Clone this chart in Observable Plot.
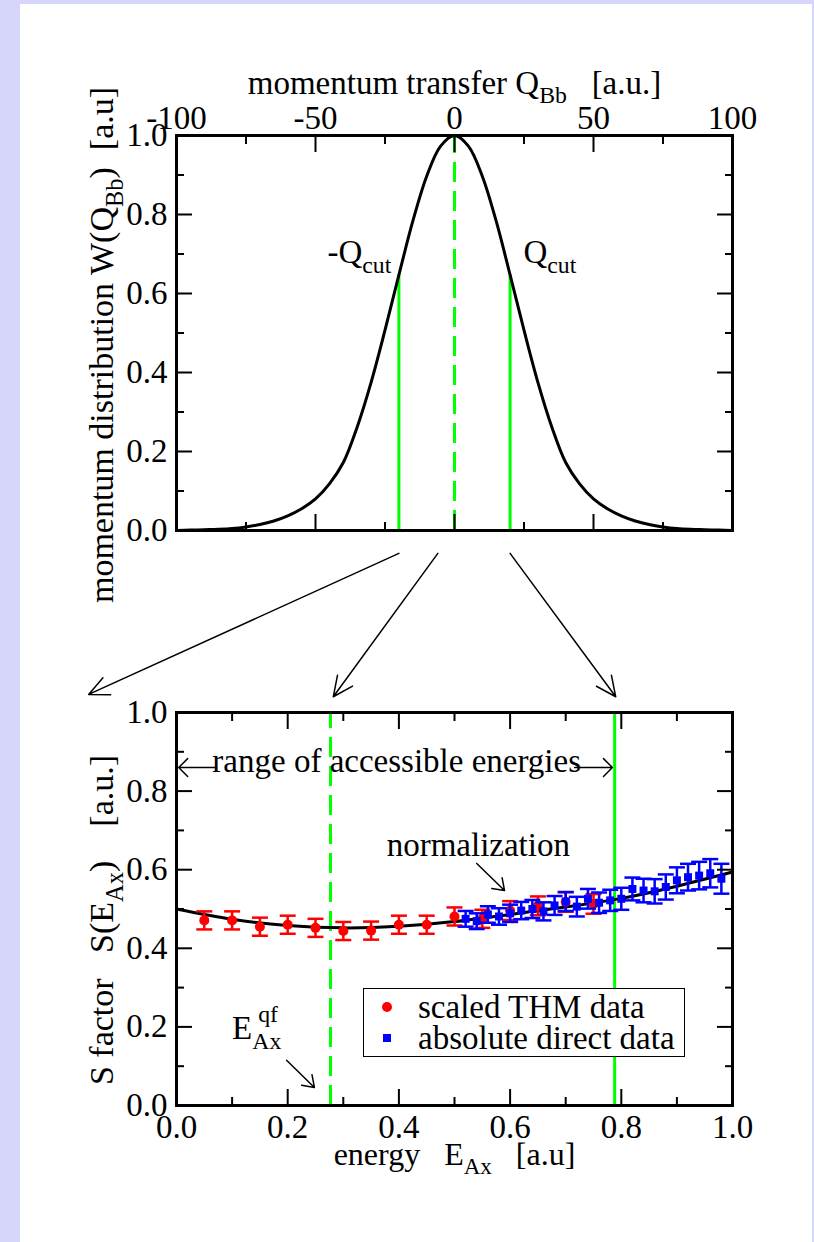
<!DOCTYPE html>
<html><head><meta charset="utf-8">
<script src="https://cdn.jsdelivr.net/npm/d3@7"></script>
<script src="https://cdn.jsdelivr.net/npm/@observablehq/plot@0.6"></script>
<style>
html,body{margin:0;padding:0;background:#d6d6fb;}
#page{position:relative;width:814px;height:1242px;overflow:hidden;font-family:'Liberation Serif','Times New Roman',serif;}
#sheet{position:absolute;left:20px;top:4px;width:792px;height:1240px;background:#fff;}
#top,#bottom{position:absolute;left:0;width:814px;}
#top{top:0;}
#bottom{top:540px;}
#legend{position:absolute;left:363px;top:988px;width:322px;height:69px;box-sizing:border-box;border:1.5px solid #000;background:#fff;}
svg text, svg tspan{white-space:pre;}
</style></head><body>
<div id="page"><div id="sheet"></div><div id="top"></div><div id="bottom"></div><div id="legend"></div></div>
<script>
// ---- top panel: momentum distribution ----
const momentumQ = [-100,-95,-90,-85,-80,-75,-70,-65,-60,-55,-50,-45,-40,-35,-30,-25,-20,-15,-10,-5,0,5,10,15,20,25,30,35,40,45,50,55,60,65,70,75,80,85,90,95,100];
const momentumW = [0,0.001,0.002,0.003,0.005,0.009,0.015,0.024,0.037,0.055,0.08,0.118,0.172,0.262,0.375,0.507,0.647,0.783,0.897,0.973,1.0,0.973,0.897,0.783,0.647,0.507,0.375,0.262,0.172,0.118,0.08,0.055,0.037,0.024,0.015,0.009,0.005,0.003,0.002,0.001,0];
const cutQ = [-20, 20];
const cutW = [0.647, 0.647];
const centerQ = [0];
const qMajor = [-100,-50,0,50,100];
const qMinor = [-75,-25,25,75];
const wMajor = [0,0.2,0.4,0.6,0.8,1.0];
const wMinor = [0.1,0.3,0.5,0.7,0.9];

// ---- bottom panel: S factor ----
const thmE = [0.05,0.10,0.15,0.20,0.25,0.30,0.35,0.40,0.45,0.50,0.55,0.60,0.65,0.70,0.75];
const thmS = [0.471,0.471,0.455,0.460,0.452,0.444,0.445,0.460,0.460,0.481,0.475,0.496,0.508,0.518,0.513];
const thmErr = [0.023,0.023,0.023,0.023,0.023,0.023,0.023,0.023,0.023,0.023,0.023,0.024,0.024,0.025,0.025];
const directE = [0.52,0.54,0.56,0.58,0.60,0.62,0.64,0.66,0.68,0.70,0.72,0.74,0.76,0.78,0.80,0.82,0.84,0.86,0.88,0.90,0.92,0.94,0.96,0.98];
const directS = [0.475,0.469,0.486,0.481,0.489,0.496,0.500,0.494,0.509,0.519,0.506,0.526,0.516,0.522,0.526,0.551,0.547,0.545,0.556,0.573,0.581,0.585,0.591,0.577];
const directErr = [0.020,0.020,0.021,0.021,0.022,0.022,0.023,0.023,0.024,0.024,0.025,0.025,0.026,0.027,0.028,0.029,0.030,0.031,0.032,0.033,0.034,0.035,0.036,0.038];
const fitE = [0,0.1,0.2,0.3,0.4,0.5,0.6,0.7,0.8,0.9,1.0];
const fitS = [0.500,0.474,0.458,0.452,0.456,0.468,0.486,0.505,0.527,0.558,0.594];
const qfE = [0.277];
const limitE = [0.788];
const eMajor = [0,0.2,0.4,0.6,0.8,1.0];
const eMinor = [0.1,0.3,0.5,0.7,0.9];
const sMajor = [0,0.2,0.4,0.6,0.8,1.0];
const sMinor = [0.1,0.3,0.5,0.7,0.9];
// arrows from the upper panel down to the lower panel (in lower-panel units)
const linkE1 = [0.40, 0.47, 0.60];
const linkS1 = [1.405, 1.405, 1.405];
const linkE2 = [-0.158, 0.282, 0.790];
const linkS2 = [1.046, 1.040, 1.040];
const legendLabels = ["scaled THM data", "absolute direct data"];
const legendColors = ["#ff0000", "#0000ff"];

const FONT = "'Liberation Serif', 'Times New Roman', serif";
const FS = 33;
const GREEN = "#00ff00";
const fmt = d => d.toFixed(1);

const styleBase = {fontFamily: FONT, fontSize: FS + "px", background: "transparent", overflow: "visible", color: "#000"};
const capSymbol = {draw(ctx, size) { const w = Math.sqrt(size / Math.PI); ctx.moveTo(-w, 0); ctx.lineTo(w, 0); }};

function ticksFor(xMaj, xMin, yMaj, yMin) {
  const m = [];
  for (const anchor of ["top", "bottom"]) {
    m.push(Plot.axisX(xMaj, {anchor, tickSize: -16, tickFormat: () => "", label: null, strokeWidth: 2}));
    m.push(Plot.axisX(xMin, {anchor, tickSize: -8, tickFormat: () => "", label: null, strokeWidth: 2}));
  }
  for (const anchor of ["left", "right"]) {
    m.push(Plot.axisY(yMaj, {anchor, tickSize: -16, tickFormat: () => "", label: null, strokeWidth: 2}));
    m.push(Plot.axisY(yMin, {anchor, tickSize: -8, tickFormat: () => "", label: null, strokeWidth: 2}));
  }
  return m;
}

function richify(svg) {
  d3.select(svg).selectAll("text").each(function() {
    const t = this.textContent;
    if (!/[_^]\{/.test(t)) return;
    const fs = parseFloat(getComputedStyle(this).fontSize) || FS;
    const sel = d3.select(this).attr("xml:space", "preserve").style("white-space", "pre");
    this.textContent = "";
    const re = /([_^])\{([^}]*)\}/g;
    let last = 0, m; const parts = [];
    while ((m = re.exec(t))) {
      if (m.index > last) parts.push({s: t.slice(last, m.index), k: ""});
      parts.push({s: m[2], k: m[1]});
      last = re.lastIndex;
    }
    if (last < t.length) parts.push({s: t.slice(last), k: ""});
    let shift = 0;
    for (const p of parts) {
      const target = p.k === "_" ? 0.3 * fs : p.k === "^" ? -0.42 * fs : 0;
      const ts = sel.append("tspan").text(p.s).style("white-space", "pre");
      if (target - shift) ts.attr("dy", target - shift);
      if (p.k) ts.attr("font-size", 0.72 * fs);
      shift = target;
    }
  });
}

// ---------------- TOP PLOT ----------------
const topData = momentumQ.map((q, i) => ({q, w: momentumW[i]}));
const cutData = cutQ.map((q, i) => ({q, w: cutW[i]}));
const topPlot = Plot.plot({
  width: 814, height: 540,
  marginLeft: 176, marginRight: 82, marginTop: 135, marginBottom: 10,
  x: {domain: [-100, 100]},
  y: {domain: [0, 1]},
  style: styleBase,
  marks: [
    Plot.ruleX(cutData, {x: "q", y1: 0, y2: "w", stroke: GREEN, strokeWidth: 3}),
    Plot.ruleX(centerQ, {y1: 0, y2: 1, stroke: GREEN, strokeWidth: 3, strokeDasharray: "20,9"}),
    Plot.line(topData, {x: "q", y: "w", stroke: "#000", strokeWidth: 3, curve: "catmull-rom"}),
    ...ticksFor(qMajor, qMinor, wMajor, wMinor),
    Plot.axisX(qMajor, {anchor: "top", tickSize: 0, tickPadding: 7, tickFormat: d => String(d), label: null}),
    Plot.axisY(wMajor, {anchor: "left", tickSize: 0, tickPadding: 9, tickFormat: fmt, label: null}),
    Plot.frame({stroke: "#000", strokeWidth: 3}),
    Plot.text(["-Q_{cut}"], {x: -45.7, y: 0.678, textAnchor: "start", lineAnchor: "bottom", fontSize: FS}),
    Plot.text(["Q_{cut}"], {x: 24.8, y: 0.678, textAnchor: "start", lineAnchor: "bottom", fontSize: FS}),
    Plot.text(["momentum transfer Q_{Bb}   [a.u.]"], {frameAnchor: "top", textAnchor: "middle", lineAnchor: "bottom", dy: -42, fontSize: 33}),
    Plot.text(["momentum distribution W(Q_{Bb})  [a.u]"], {frameAnchor: "left", rotate: -90, textAnchor: "middle", lineAnchor: "bottom", dx: -64, dy: 12, fontSize: 34})
  ]
});
document.getElementById("top").appendChild(topPlot);
richify(topPlot);

// ---------------- BOTTOM PLOT ----------------
const thm = thmE.map((e, i) => ({e, s: thmS[i], err: thmErr[i]}));
const direct = directE.map((e, i) => ({e, s: directS[i], err: directErr[i]}));
const fit = fitE.map((e, i) => ({e, s: fitS[i]}));
const links = linkE1.map((e, i) => ({x1: e, y1: linkS1[i], x2: linkE2[i], y2: linkS2[i]}));
function errMarks(data, color) {
  return [
    Plot.ruleX(data, {x: "e", y1: d => d.s - d.err, y2: d => d.s + d.err, stroke: color, strokeWidth: 2.5}),
    Plot.dot(data, {x: "e", y: d => d.s - d.err, symbol: capSymbol, r: 8, stroke: color, strokeWidth: 2.5, fill: "none"}),
    Plot.dot(data, {x: "e", y: d => d.s + d.err, symbol: capSymbol, r: 8, stroke: color, strokeWidth: 2.5, fill: "none"})
  ];
}
const bottomPlot = Plot.plot({
  width: 814, height: 702,
  marginLeft: 176, marginRight: 82, marginTop: 172, marginBottom: 137,
  x: {domain: [0, 1]},
  y: {domain: [0, 1]},
  style: styleBase,
  marks: [
    Plot.ruleX(qfE, {y1: 0, y2: 1, stroke: GREEN, strokeWidth: 3, strokeDasharray: "20,9"}),
    Plot.ruleX(limitE, {y1: 0, y2: 1, stroke: GREEN, strokeWidth: 3}),
    Plot.line(fit, {x: "e", y: "s", stroke: "#000", strokeWidth: 3, curve: "natural"}),
    ...errMarks(thm, "#ff0000"),
    Plot.dot(thm, {x: "e", y: "s", r: 5, fill: "#ff0000"}),
    ...errMarks(direct, "#0000ff"),
    Plot.dot(direct, {x: "e", y: "s", r: 4.5, symbol: "square", fill: "#0000ff"}),
    ...ticksFor(eMajor, eMinor, sMajor, sMinor),
    Plot.axisX(eMajor, {anchor: "bottom", tickSize: 0, tickPadding: 9, tickFormat: fmt, label: null}),
    Plot.axisY(sMajor, {anchor: "left", tickSize: 0, tickPadding: 9, tickFormat: fmt, label: null}),
    Plot.frame({stroke: "#000", strokeWidth: 3}),
    Plot.arrow(links, {x1: "x1", y1: "y1", x2: "x2", y2: "y2", stroke: "#000", strokeWidth: 1.5, headLength: 22, headAngle: 50}),
    Plot.arrow([{x1: 0.072, x2: 0.004, y: 0.86}, {x1: 0.716, x2: 0.784, y: 0.86}], {x1: "x1", x2: "x2", y1: "y", y2: "y", stroke: "#000", strokeWidth: 1.5, headLength: 13, headAngle: 90}),
    Plot.arrow([{x1: 0.540, y1: 0.616, x2: 0.590, y2: 0.547}, {x1: 0.198, y1: 0.115, x2: 0.248, y2: 0.046}], {x1: "x1", y1: "y1", x2: "x2", y2: "y2", stroke: "#000", strokeWidth: 1.5, headLength: 14, headAngle: 70}),
    Plot.text(["range of accessible energies"], {x: 0.396, y: 0.848, textAnchor: "middle", lineAnchor: "bottom", fontSize: FS}),
    Plot.text(["normalization"], {x: 0.378, y: 0.636, textAnchor: "start", lineAnchor: "bottom", fontSize: FS}),
    Plot.text(["E_{Ax}"], {x: 0.100, y: 0.170, textAnchor: "start", lineAnchor: "bottom", fontSize: FS}),
    Plot.text(["qf"], {x: 0.147, y: 0.212, textAnchor: "start", lineAnchor: "bottom", fontSize: FS * 0.72}),
    Plot.text(["energy   E_{Ax}   [a.u]"], {frameAnchor: "bottom", textAnchor: "middle", lineAnchor: "bottom", dy: 59, fontSize: 32}),
    Plot.text(["S factor   S(E_{Ax})    [a.u.]"], {frameAnchor: "left", rotate: -90, textAnchor: "middle", lineAnchor: "bottom", dx: -64, dy: 11, fontSize: 34})
  ]
});
document.getElementById("bottom").appendChild(bottomPlot);
richify(bottomPlot);

// ---------------- LEGEND ----------------
const lg = d3.select("#legend").append("svg").attr("width", 320).attr("height", 67)
  .style("position", "absolute").style("left", "0px").style("top", "0px")
  .attr("font-family", FONT).attr("font-size", FS);
legendLabels.forEach((label, i) => {
  const cy = 18 + i * 31;
  if (i === 0) lg.append("circle").attr("cx", 23).attr("cy", cy).attr("r", 5).attr("fill", legendColors[i]);
  else lg.append("rect").attr("x", 19).attr("y", cy - 4).attr("width", 8).attr("height", 8).attr("fill", legendColors[i]);
  lg.append("text").attr("x", 54).attr("y", cy + 11)
    .attr("font-family", "Liberation Serif").attr("font-size", FS).attr("fill", "#000").text(label);
});
</script>
</body></html>
